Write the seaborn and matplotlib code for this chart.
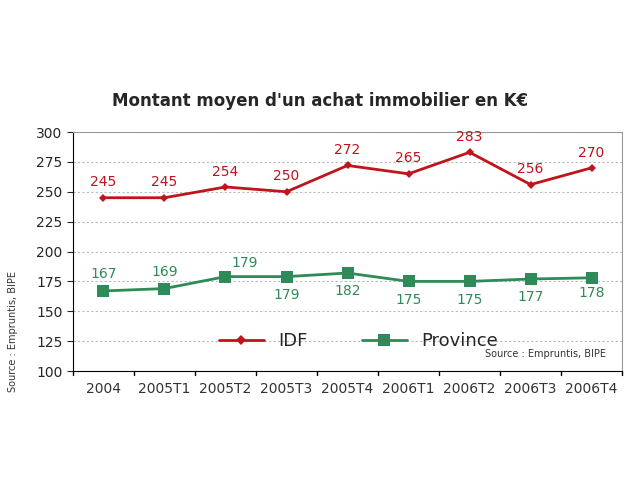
import pandas as pd
import seaborn as sns
import matplotlib.pyplot as plt

# --- Données ---
periodes = ['2004', '2005T1', '2005T2', '2005T3', '2005T4',
            '2006T1', '2006T2', '2006T3', '2006T4']
idf = [245, 245, 254, 250, 272, 265, 283, 256, 270]
province = [167, 169, 179, 179, 182, 175, 175, 177, 178]

ROUGE = '#c0141c'
VERT = '#2e8b57'

df = pd.DataFrame({
    'periode': periodes * 2,
    'valeur': idf + province,
    'serie': ['IDF'] * len(periodes) + ['Province'] * len(periodes),
})
df['x'] = df['periode'].map({p: i for i, p in enumerate(periodes)})

sns.set_style('white')
plt.rcParams['font.family'] = ['DejaVu Sans']

fig = plt.figure(figsize=(6.4, 4.8), dpi=100)
ax = fig.add_axes([0.114, 0.227, 0.858, 0.498])

sns.lineplot(data=df, x='x', y='valeur', hue='serie', style='serie',
             markers={'IDF': 'D', 'Province': 's'}, dashes=False,
             palette={'IDF': ROUGE, 'Province': VERT}, linewidth=2,
             markersize=6, markeredgewidth=0, ax=ax)
# plus petit losange pour IDF
ax.lines[0].set_markersize(4)
ax.lines[1].set_markersize(8)

# étiquettes de valeurs
for i, v in enumerate(idf):
    ax.annotate(str(v), (i, v), xytext=(0, 6), textcoords='offset points',
                ha='center', va='bottom', color=ROUGE, fontsize=10)
prov_offsets = [(0, 7), (0, 7), (14, 5), (0, -8), (0, -8),
                (0, -8), (0, -8), (0, -8), (0, -6)]
for i, v in enumerate(province):
    dx, dy = prov_offsets[i]
    ax.annotate(str(v), (i, v), xytext=(dx, dy), textcoords='offset points',
                ha='center', va='bottom' if dy > 0 else 'top',
                color=VERT, fontsize=10)

ax.set_xlim(-0.5, len(periodes) - 0.5)
ax.set_ylim(100, 300)
ax.set_yticks(range(100, 301, 25))
ax.set_xticks(range(len(periodes)))
ax.set_xticklabels(periodes, fontsize=10, color='#333333')
ax.tick_params(axis='y', labelsize=10, length=4, left=True)
ax.tick_params(axis='x', length=0, pad=8)
# petites marques entre catégories
for b in range(len(periodes) + 1):
    ax.plot([b - 0.5, b - 0.5], [100, 97], color='black', lw=1,
            clip_on=False)
ax.set_xlabel('')
ax.set_ylabel('')

ax.grid(axis='y', color='#bbbbbb', linestyle=(0, (2, 2)), linewidth=0.8)
for s in ['top', 'right']:
    ax.spines[s].set_color('#999999')
for s in ['left', 'bottom']:
    ax.spines[s].set_color('black')

leg = ax.legend(loc='lower center', bbox_to_anchor=(0.52, 0.02), ncol=2,
                frameon=False, fontsize=13, handlelength=2.5,
                columnspacing=3)
leg.legend_handles[0].set_markersize(5)
leg.legend_handles[1].set_markersize(9)
ax.text(0.97, 0.07, 'Source : Empruntis, BIPE', transform=ax.transAxes,
        ha='right', va='center', fontsize=7, color='#333333')

fig.text(0.5, 0.79, "Montant moyen d'un achat immobilier en K€",
         ha='center', va='center', fontsize=12, fontweight='bold')
fig.text(0.02, 0.31, 'Source : Empruntis, BIPE', rotation=90,
         ha='center', va='center', fontsize=7, color='#333333')

fig.savefig('out.png', dpi=100, facecolor='white')
